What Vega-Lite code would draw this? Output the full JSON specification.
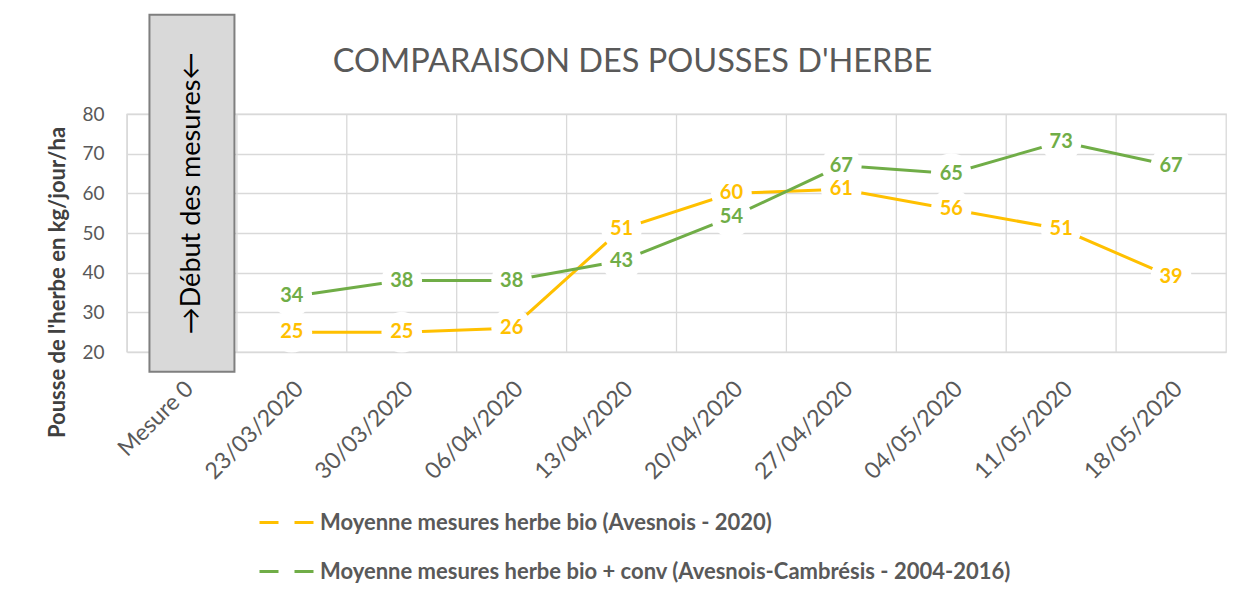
{
  "$schema": "https://vega.github.io/schema/vega-lite/v6.json",
  "width": 1099,
  "height": 238,
  "autosize": {"type": "none"},
  "padding": {"left": 127, "top": 114, "right": 16, "bottom": 242},
  "background": "white",
  "config": {
    "view": {"stroke": "#d9d9d9", "strokeWidth": 1.3},
    "font": "Lato",
    "axisY": {
      "values": [20, 30, 40, 50, 60, 70, 80], "tickCount": 7, "grid": true, "gridColor": "#d9d9d9", "gridWidth": 1.3,
      "domain": false, "ticks": false, "labelFontSize": 19, "labelColor": "#595959", "labelPadding": 23, "labelOverlap": false
    }
  },
  "title": {
    "text": "COMPARAISON DES POUSSES D'HERBE",
    "fontSize": 32.5,
    "font": "Lato",
    "fontWeight": "normal",
    "color": "#595959",
    "anchor": "middle",
    "dx": -44,
    "offset": -65
  },
  "datasets": {
    "cats": [
      {"cat": "Mesure 0"}, {"cat": "23/03/2020"}, {"cat": "30/03/2020"}, {"cat": "06/04/2020"},
      {"cat": "13/04/2020"}, {"cat": "20/04/2020"}, {"cat": "27/04/2020"}, {"cat": "04/05/2020"},
      {"cat": "11/05/2020"}, {"cat": "18/05/2020"}
    ],
    "annot": [{"cat": "Mesure 0", "y": 15, "y2": 105, "ty": 60, "label": "→Début des mesures←"}],
    "series": [
      {"cat": "23/03/2020", "series": "Moyenne mesures herbe bio (Avesnois - 2020)", "value": 25},
      {"cat": "30/03/2020", "series": "Moyenne mesures herbe bio (Avesnois - 2020)", "value": 25},
      {"cat": "06/04/2020", "series": "Moyenne mesures herbe bio (Avesnois - 2020)", "value": 26},
      {"cat": "13/04/2020", "series": "Moyenne mesures herbe bio (Avesnois - 2020)", "value": 51},
      {"cat": "20/04/2020", "series": "Moyenne mesures herbe bio (Avesnois - 2020)", "value": 60},
      {"cat": "27/04/2020", "series": "Moyenne mesures herbe bio (Avesnois - 2020)", "value": 61},
      {"cat": "04/05/2020", "series": "Moyenne mesures herbe bio (Avesnois - 2020)", "value": 56},
      {"cat": "11/05/2020", "series": "Moyenne mesures herbe bio (Avesnois - 2020)", "value": 51},
      {"cat": "18/05/2020", "series": "Moyenne mesures herbe bio (Avesnois - 2020)", "value": 39},
      {"cat": "23/03/2020", "series": "Moyenne mesures herbe bio + conv (Avesnois-Cambrésis - 2004-2016)", "value": 34},
      {"cat": "30/03/2020", "series": "Moyenne mesures herbe bio + conv (Avesnois-Cambrésis - 2004-2016)", "value": 38},
      {"cat": "06/04/2020", "series": "Moyenne mesures herbe bio + conv (Avesnois-Cambrésis - 2004-2016)", "value": 38},
      {"cat": "13/04/2020", "series": "Moyenne mesures herbe bio + conv (Avesnois-Cambrésis - 2004-2016)", "value": 43},
      {"cat": "20/04/2020", "series": "Moyenne mesures herbe bio + conv (Avesnois-Cambrésis - 2004-2016)", "value": 54},
      {"cat": "27/04/2020", "series": "Moyenne mesures herbe bio + conv (Avesnois-Cambrésis - 2004-2016)", "value": 67},
      {"cat": "04/05/2020", "series": "Moyenne mesures herbe bio + conv (Avesnois-Cambrésis - 2004-2016)", "value": 65},
      {"cat": "11/05/2020", "series": "Moyenne mesures herbe bio + conv (Avesnois-Cambrésis - 2004-2016)", "value": 73},
      {"cat": "18/05/2020", "series": "Moyenne mesures herbe bio + conv (Avesnois-Cambrésis - 2004-2016)", "value": 67}
    ]
  },
  "layer": [
    {
      "data": {"name": "cats"},
      "mark": {"type": "rule", "color": "#d9d9d9", "strokeWidth": 1.3},
      "encoding": {
        "x": {
          "field": "cat", "type": "nominal", "bandPosition": 0,
          "scale": {"type": "band", "paddingInner": 0, "paddingOuter": 0,
            "domain": ["Mesure 0", "23/03/2020", "30/03/2020", "06/04/2020", "13/04/2020", "20/04/2020", "27/04/2020", "04/05/2020", "11/05/2020", "18/05/2020"]},
          "axis": {
            "title": null, "labelAngle": -45, "labelAlign": "right", "labelBaseline": "top",
            "labelFontSize": 23, "labelColor": "#595959", "labelPadding": 25, "labelDx": -2,
            "ticks": false, "domain": false, "grid": false, "labelOverlap": false, "bandPosition": 0.5
          }
        }
      }
    },
    {
      "data": {"name": "annot"},
      "mark": {"type": "bar", "fill": "#d9d9d9", "stroke": "#7f7f7f", "strokeWidth": 2, "width": 85, "xOffset": 10, "clip": false},
      "encoding": {
        "x": {"field": "cat", "type": "nominal"},
        "y": {"field": "y", "type": "quantitative",
          "scale": {"domain": [20, 80], "nice": false, "zero": false},
          "axis": {
            "title": "Pousse de l'herbe en kg/jour/ha", "titleFontSize": 22, "titleFontWeight": "bold",
            "titleColor": "#404040", "titleX": -70, "titleY": 168, "titleAngle": -90, "titleAlign": "center", "titleBaseline": "middle"
          }
        },
        "y2": {"field": "y2"}
      }
    },
    {
      "data": {"name": "annot"},
      "mark": {"type": "text", "angle": 270, "fontSize": 27, "color": "#000000", "xOffset": 10, "align": "center", "baseline": "middle"},
      "encoding": {
        "x": {"field": "cat", "type": "nominal", "bandPosition": 0.5},
        "y": {"field": "ty", "type": "quantitative"},
        "text": {"field": "label"}
      }
    },
    {
      "data": {"name": "series"},
      "mark": {"type": "line", "strokeWidth": 3},
      "encoding": {
        "x": {"field": "cat", "type": "nominal", "bandPosition": 0.5},
        "y": {"field": "value", "type": "quantitative"},
        "color": {
          "field": "series", "type": "nominal",
          "scale": {"domain": ["Moyenne mesures herbe bio (Avesnois - 2020)", "Moyenne mesures herbe bio + conv (Avesnois-Cambrésis - 2004-2016)"], "range": ["#FFC000", "#70AD47"]},
          "legend": {
            "orient": "none", "legendX": 131, "legendY": 380, "direction": "vertical", "title": null,
            "symbolType": "stroke", "symbolStrokeWidth": 3, "symbolDash": [19, 16], "symbolSize": 2916,
            "labelFontSize": 22, "labelFontWeight": "bold", "labelColor": "#595959", "labelLimit": 1000,
            "labelOffset": 5, "rowPadding": 9
          }
        }
      }
    },
    {
      "data": {"name": "series"},
      "mark": {"type": "point", "shape": "circle", "filled": true, "color": "white", "opacity": 1, "size": 1650},
      "encoding": {
        "x": {"field": "cat", "type": "nominal", "bandPosition": 0.5},
        "y": {"field": "value", "type": "quantitative"}
      }
    },
    {
      "data": {"name": "series"},
      "transform": [{"filter": "datum.series == 'Moyenne mesures herbe bio (Avesnois - 2020)'"}],
      "mark": {"type": "text", "fontSize": 20, "fontWeight": "bold", "color": "#FFC000", "align": "center", "baseline": "middle"},
      "encoding": {
        "x": {"field": "cat", "type": "nominal", "bandPosition": 0.5},
        "y": {"field": "value", "type": "quantitative"},
        "text": {"field": "value"}
      }
    },
    {
      "data": {"name": "series"},
      "transform": [{"filter": "datum.series != 'Moyenne mesures herbe bio (Avesnois - 2020)'"}],
      "mark": {"type": "text", "fontSize": 20, "fontWeight": "bold", "color": "#70AD47", "align": "center", "baseline": "middle"},
      "encoding": {
        "x": {"field": "cat", "type": "nominal", "bandPosition": 0.5},
        "y": {"field": "value", "type": "quantitative"},
        "text": {"field": "value"}
      }
    }
  ]
}
